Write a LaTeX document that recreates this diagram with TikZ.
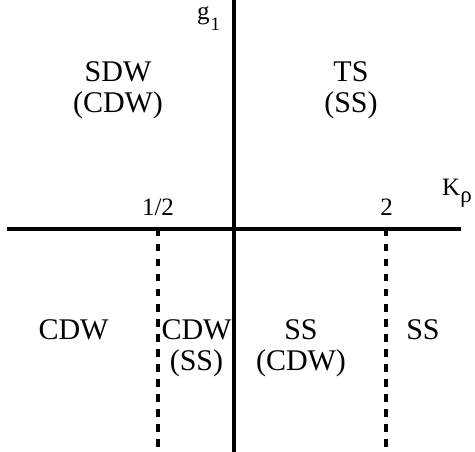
\documentclass[tikz,border=0pt]{standalone}
\usepackage{fontspec}
\setmainfont{Liberation Serif}
\newcommand\regfont{\fontsize{30}{31}\selectfont}
\newcommand\labfont{\fontsize{25}{30}\selectfont}
\newcommand\subfont{\fontsize{19}{22}\selectfont}
\newcommand\rhofont{\fontsize{23}{26}\selectfont}
\begin{document}
\begin{tikzpicture}[x=1pt,y=-1pt,
  axis/.style={line width=3.2pt},
  boundary/.style={line width=3.2pt, dash pattern=on 7.5pt off 7.5pt},
  region/.style={anchor=base, inner sep=0pt, font=\regfont},
  lab/.style={anchor=base, inner sep=0pt, font=\labfont}]
\useasboundingbox (0,0) rectangle (475,452);
% axes and boundaries
\coordinate (ytop) at (234,0);
\coordinate (ybot) at (234,452);
\coordinate (xl) at (7,229);
\coordinate (xr) at (461,229);
\coordinate (h1) at (158,229);
\coordinate (h1b) at (158,452);
\coordinate (h2) at (386,229);
\coordinate (h2b) at (386,452);
\draw[axis] (xl) -- (xr);
\draw[axis] (ytop) -- (ybot);
\draw[boundary] (h1) -- (h1b);
\draw[boundary] (h2) -- (h2b);
% axis labels
\node[lab, anchor=base west] (g1) at (197,20) {g\kern1pt\raisebox{-11pt}{\subfont 1}};
\node[lab, anchor=base west] (K) at (442,196) {K\raisebox{-6.5pt}{\rhofont ρ}};
\node[lab] (half) at (158,215) {1/2};
\node[lab] (two) at (386.5,215) {2};
% regions
\node[region] (sdw) at (118,82) {\begin{tabular}[t]{@{}c@{}}SDW\\(CDW)\end{tabular}};
\node[region] (ts) at (351,82) {\begin{tabular}[t]{@{}c@{}}TS\\(SS)\end{tabular}};
\node[region] (cdw) at (73.5,340) {CDW};
\node[region] (cdwss) at (196.5,340) {\begin{tabular}[t]{@{}c@{}}CDW\\(SS)\end{tabular}};
\node[region] (sscdw) at (301,340) {\begin{tabular}[t]{@{}c@{}}SS\\(CDW)\end{tabular}};
\node[region] (ss) at (423,340) {SS};
\end{tikzpicture}
\end{document}
